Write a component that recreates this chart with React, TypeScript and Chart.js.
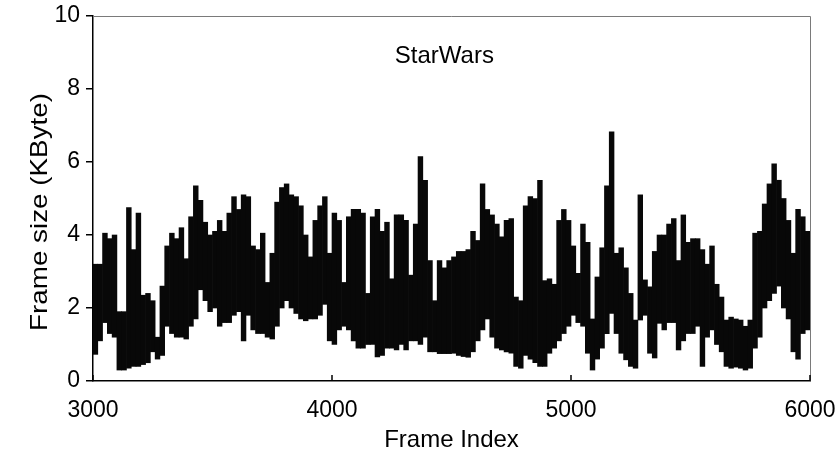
import { useEffect, useRef } from "react";
import { Chart, registerables } from "chart.js";

Chart.register(...registerables);

// ---- data ----
const FIRST_FRAME = 3000;
const BIN_FRAMES = 20; // each bin: lower and upper extent of the frame-size trace

const binHigh = [
  3.2, 3.2, 4.05, 3.9, 4.0, 1.9, 1.9, 4.75, 3.6, 4.6, 2.35, 2.4, 2.2, 1.2, 2.6, 3.7, 4.05, 3.9, 4.2, 3.35, 4.5, 5.35, 4.95, 4.35, 4.0,
  4.1, 4.4, 4.1, 4.6, 5.05, 4.7, 5.1, 5.05, 3.7, 3.6, 4.05, 2.7, 3.5, 4.9, 5.3, 5.4, 5.1, 5.05, 4.8, 4.0, 3.4, 4.4, 4.8, 5.05, 3.5,
  4.6, 4.4, 2.7, 4.5, 4.7, 4.7, 4.6, 2.4, 4.5, 4.7, 4.1, 4.35, 2.8, 4.55, 4.55, 4.4, 2.9, 4.3, 6.15, 5.5, 3.3, 2.2, 3.3, 3.1, 3.3,
  3.4, 3.55, 3.55, 3.6, 4.1, 3.85, 5.4, 4.7, 4.55, 4.3, 3.95, 4.4, 4.45, 2.3, 2.2, 4.8, 5.05, 5.0, 5.5, 2.75, 2.8, 2.65, 4.4, 4.7, 4.4,
  3.7, 2.95, 4.3, 3.8, 1.7, 2.85, 3.65, 5.35, 6.83, 3.5, 3.65, 3.1, 2.4, 1.67, 5.1, 2.77, 2.58, 3.55, 4.0, 4.0, 4.3, 4.45, 3.3, 4.55, 3.8,
  3.9, 3.9, 3.6, 3.2, 3.7, 2.65, 2.3, 1.67, 1.75, 1.7, 1.67, 1.5, 1.67, 4.05, 4.1, 4.85, 5.4, 5.95, 5.5, 5.0, 4.4, 3.5, 4.7, 4.5, 4.1,
];

const binLow = [
  0.73, 1.1, 1.6, 1.3, 1.2, 0.3, 0.3, 0.35, 0.4, 0.4, 0.45, 0.5, 0.8, 0.6, 0.7, 1.5, 1.3, 1.2, 1.2, 1.15, 1.5, 1.7, 2.5, 2.2, 1.9,
  2.0, 1.5, 1.6, 1.6, 1.8, 1.9, 1.1, 1.8, 1.4, 1.3, 1.3, 1.2, 1.15, 1.5, 2.0, 2.2, 2.0, 1.85, 1.7, 1.65, 1.7, 1.7, 1.8, 2.1, 1.1,
  1.0, 1.4, 1.5, 1.4, 1.1, 0.9, 0.9, 1.0, 1.0, 0.66, 0.7, 0.9, 0.9, 0.85, 1.0, 0.85, 1.1, 1.1, 1.0, 1.2, 0.8, 0.8, 0.75, 0.75, 0.75,
  0.76, 0.7, 0.67, 0.65, 0.8, 1.1, 1.4, 1.7, 1.2, 0.9, 0.85, 0.8, 0.76, 0.4, 0.35, 0.7, 0.6, 0.5, 0.4, 0.4, 0.76, 0.9, 1.1, 1.3, 1.5,
  1.8, 1.6, 1.5, 0.76, 0.3, 0.6, 0.9, 1.3, 1.85, 1.3, 0.76, 0.58, 0.4, 0.35, 1.67, 1.8, 0.76, 0.63, 1.58, 1.4, 1.6, 1.6, 0.85, 1.1, 1.3,
  1.3, 1.5, 0.4, 1.2, 1.4, 1.0, 0.8, 0.4, 0.35, 0.38, 0.35, 0.3, 0.35, 0.9, 1.2, 2.0, 2.2, 2.4, 2.6, 2.0, 1.7, 0.8, 0.6, 1.3, 1.4,
];

const xTickValues = [3000, 4000, 5000, 6000];
const yTickValues = [0, 2, 4, 6, 8, 10];
const seriesLabel = "StarWars";
const xTitle = "Frame Index";
const yTitle = "Frame size (KByte)";

const FONT = "'Liberation Sans', Arial, Helvetica, sans-serif";

// each bin drawn as a floating column from its low to its high value
const binColumns = binHigh.map((hi, i) => ({
  x: FIRST_FRAME + i * BIN_FRAMES + BIN_FRAMES / 2,
  y: [binLow[i], hi],
}));

const overlayPlugin = {
  id: "overlayPlugin",
  afterDraw(chart: any) {
    const { ctx, chartArea: a, scales } = chart;
    ctx.save();
    // frame on top and right
    ctx.strokeStyle = "#7a7a7a";
    ctx.lineWidth = 1;
    ctx.beginPath();
    ctx.moveTo(a.left, a.top + 0.5);
    ctx.lineTo(a.right + 0.5, a.top + 0.5);
    ctx.lineTo(a.right + 0.5, a.bottom);
    ctx.stroke();
    // inward tick marks on x axis
    ctx.strokeStyle = "#000";
    ctx.lineWidth = 1.5;
    xTickValues.forEach((v) => {
      const px = scales.x.getPixelForValue(v);
      ctx.beginPath();
      ctx.moveTo(px, a.bottom);
      ctx.lineTo(px, a.bottom - 6);
      ctx.stroke();
    });
    ctx.fillStyle = "#000";
    ctx.textAlign = "center";
    ctx.textBaseline = "middle";
    // series label
    ctx.font = `24px ${FONT}`;
    ctx.fillText(seriesLabel, scales.x.getPixelForValue(4470), scales.y.getPixelForValue(8.9));
    // x title
    ctx.fillText(xTitle, (a.left + a.right) / 2, 440);
    // y title (stretched along its reading direction to the reference length)
    ctx.translate(40, 212);
    ctx.rotate(-Math.PI / 2);
    const w = ctx.measureText(yTitle).width;
    ctx.scale(238 / w, 1);
    ctx.fillText(yTitle, 0, 0);
    ctx.restore();
  },
};

export default function App() {
  const canvasRef = useRef<HTMLCanvasElement>(null);

  useEffect(() => {
    const canvas = canvasRef.current;
    if (!canvas) return;
    const chart = new Chart(canvas, {
      type: "bar",
      data: {
        datasets: [
          {
            label: seriesLabel,
            data: binColumns as any,
            backgroundColor: "#080808",
            borderWidth: 0,
            barPercentage: 1,
            categoryPercentage: 1,
            grouped: false,
          },
        ],
      },
      options: {
        animation: false,
        responsive: false,
        maintainAspectRatio: false,
        layout: { padding: { top: 16, right: 30, left: 0, bottom: 0 } },
        plugins: {
          legend: { display: false },
          tooltip: { enabled: false },
        },
        scales: {
          x: {
            type: "linear",
            min: 3000,
            max: 6000,
            offset: false,
            afterBuildTicks: (scale: any) => {
              scale.ticks = xTickValues.map((v) => ({ value: v }));
            },
            afterFit: (scale: any) => {
              scale.height = 75;
              scale.paddingLeft = 0;
              scale.paddingRight = 0;
            },
            grid: { drawOnChartArea: false, drawTicks: false, offset: false },
            border: { display: true, color: "#000", width: 1.5 },
            ticks: {
              color: "#000",
              font: { family: FONT, size: 23 },
              padding: 16,
              maxRotation: 0,
              autoSkip: false,
              callback: (v: any) => String(v),
            },
          },
          y: {
            type: "linear",
            min: 0,
            max: 10,
            afterBuildTicks: (scale: any) => {
              scale.ticks = yTickValues.map((v) => ({ value: v }));
            },
            afterFit: (scale: any) => {
              scale.width = 93;
              scale.paddingTop = 0;
              scale.paddingBottom = 0;
            },
            grid: { drawOnChartArea: false, drawTicks: true, tickLength: 7, color: "#000", lineWidth: 1.5 },
            border: { display: true, color: "#000", width: 1.5 },
            ticks: {
              color: "#000",
              font: { family: FONT, size: 23 },
              padding: 6,
              autoSkip: false,
              callback: (v: any) => String(v),
            },
          },
        },
      },
      plugins: [overlayPlugin],
    });
    return () => chart.destroy();
  }, []);

  return (
    <div style={{ position: "fixed", left: 0, top: 0, width: 840, height: 456, background: "#fff" }}>
      <canvas ref={canvasRef} width={840} height={456} style={{ display: "block", width: 840, height: 456 }} />
    </div>
  );
}
